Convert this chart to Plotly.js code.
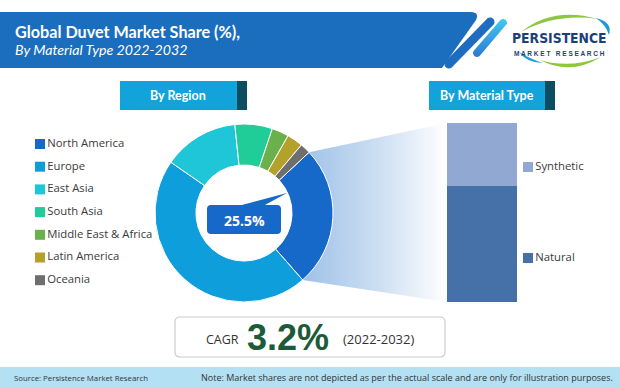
<!DOCTYPE html>
<html><head><meta charset="utf-8">
<script src="https://cdn.plot.ly/plotly-3.0.1.min.js"></script>
<style>html,body{margin:0;padding:0;background:#fff}#chart{width:620px;height:387px}</style>
</head><body><div id="chart"></div>
<script>
// ---------- data ----------
const regions = ['North America','Europe','East Asia','South Asia','Middle East & Africa','Latin America','Oceania'];
const regionShare = [25.5, 46.1, 13.7, 6.8, 3.1, 2.9, 1.9];
const materials = ['Natural','Synthetic'];
const materialShare = [65, 35];
const titleText = 'Global Duvet Market Share (%),';
const subtitleText = 'By Material Type 2022-2032';
const cagrLabel = 'CAGR';
const cagrValue = '3.2%';
const cagrPeriod = '(2022-2032)';
const sourceText = 'Source: Persistence Market Research';
const noteText = 'Note: Market shares are not depicted as per the actual scale and are only for illustration purposes.';

// ---------- styles / geometry ----------
const regionColors = ['#1769c9','#0e9edb','#1fc6d8','#20cc98','#6ab04c','#b3a12c','#6e6e6e'];
const materialColors = ['#4570a8','#91a9d2'];
const W = 620, H = 387;
const pie = {cx:244, cy:213, r:89, hole:0.54, rotation:47};
const bar = {x0:447, x1:517, y0:123, y1:302};

function capsule(x1,y1,x2,y2,w){
  const dx=x2-x1, dy=y2-y1, L=Math.hypot(dx,dy), ux=dx/L, uy=dy/L, nx=-uy, ny=ux, r=w/2;
  const xs=[], ys=[];
  for(let i=0;i<=12;i++){const t=Math.PI*i/12; xs.push(x2+r*(nx*Math.cos(t)+ux*Math.sin(t))); ys.push(y2+r*(ny*Math.cos(t)+uy*Math.sin(t)));}
  for(let i=0;i<=12;i++){const t=Math.PI*i/12; xs.push(x1+r*(-nx*Math.cos(t)-ux*Math.sin(t))); ys.push(y1+r*(-ny*Math.cos(t)-uy*Math.sin(t)));}
  return {xs, ys};
}
function toPath(c){ return 'M'+c.xs.map((x,i)=>x.toFixed(1)+','+c.ys[i].toFixed(1)).join(' L')+' Z'; }
function roundRect(x0,y0,x1,y1,r){
  return `M${x0+r},${y0} H${x1-r} Q${x1},${y0} ${x1},${y0+r} V${y1-r} Q${x1},${y1} ${x1-r},${y1} H${x0+r} Q${x0},${y1} ${x0},${y1-r} V${y0+r} Q${x0},${y0} ${x0+r},${y0} Z`;
}

// fan connector from first slice to the bar
const total = regionShare.reduce((a,b)=>a+b,0);
const a0 = pie.rotation*Math.PI/180;
const a1 = a0 + 2*Math.PI*regionShare[0]/total;
const fan = {
  x:[pie.cx+pie.r*Math.sin(a0), bar.x0, bar.x0, pie.cx+pie.r*Math.sin(a1)],
  y:[pie.cy-pie.r*Math.cos(a0), bar.y0, bar.y1, pie.cy-pie.r*Math.cos(a1)]
};

const darkStripe = capsule(490,22,449,64,9);
const lightStripe = capsule(503,23,477,53,8);

const traces = [
  {type:'scatter', x:fan.x, y:fan.y, xaxis:'x', yaxis:'y', mode:'lines', line:{width:0}, fill:'toself',
   fillgradient:{type:'horizontal', colorscale:[[0,'#9ec1e8'],[0.55,'#cfe0f3'],[1,'#ffffff']]}, hoverinfo:'skip'},
  {type:'scatter', x:lightStripe.xs, y:lightStripe.ys, mode:'lines', line:{width:0}, fill:'toself',
   fillgradient:{type:'vertical', colorscale:[[0,'#2a7bd4'],[1,'#42c8f0']]}, hoverinfo:'skip'},
  {type:'scatter', x:regions.map(()=>40), y:regions.map((_,i)=>144+i*22.7), mode:'markers+text',
   marker:{symbol:'square', size:10, color:regionColors}, text:regions, textposition:'middle right',
   textfont:{family:'Open Sans', size:11.3, color:'#3a3a3a'}, cliponaxis:false, hoverinfo:'skip'},
  {type:'scatter', x:materials.map(()=>528), y:[258,167], mode:'markers+text',
   marker:{symbol:'square', size:10, color:materialColors}, text:materials, textposition:'middle right',
   textfont:{family:'Open Sans', size:11.3, color:'#3a3a3a'}, cliponaxis:false, hoverinfo:'skip'},
  {type:'bar', x:[0], y:[materialShare[0]], width:1, name:materials[0], xaxis:'x2', yaxis:'y2', marker:{color:materialColors[0]}, hoverinfo:'skip'},
  {type:'bar', x:[0], y:[materialShare[1]], width:1, name:materials[1], xaxis:'x2', yaxis:'y2', marker:{color:materialColors[1]}, hoverinfo:'skip'},
  {type:'pie', labels:regions, values:regionShare, hole:pie.hole, sort:false, direction:'clockwise', rotation:pie.rotation,
   marker:{colors:regionColors, line:{color:'#ffffff', width:1}}, textinfo:'none', hoverinfo:'none',
   domain:{x:[(pie.cx-pie.r)/W,(pie.cx+pie.r)/W], y:[1-(pie.cy+pie.r)/H, 1-(pie.cy-pie.r)/H]}}
];

const hdr = (x0,x1,y0,y1)=>[
  {type:'rect', xref:'x', yref:'y', x0:x0, x1:x1-10, y0:y0, y1:y1, fillcolor:'#12a3db', line:{width:0}},
  {type:'rect', xref:'x', yref:'y', x0:x1-10, x1:x1, y0:y0, y1:y1, fillcolor:'#0c4e60', line:{width:0}}
];

const shapes = [
  {type:'path', xref:'x', yref:'y', path:'M0,12 H470 Q480,12 476,20 L442,68 H0 Z', fillcolor:'#1b6ebd', line:{width:0}},
  {type:'path', xref:'x', yref:'y', path:toPath(darkStripe), fillcolor:'#1e6cc0', line:{width:0}},
  ...hdr(120,247,81,110),
  ...hdr(429,555,81,110),
  {type:'path', xref:'x', yref:'y', path:roundRect(207,205,281,234,4), fillcolor:regionColors[0], line:{width:0}},
  {type:'path', xref:'x', yref:'y', path:'M238,206 L287,193 L263,206 Z', fillcolor:regionColors[0], line:{width:0}},
  {type:'path', xref:'x', yref:'y', path:roundRect(175,317,445,357,5), fillcolor:'#ffffff', line:{color:'#cccccc', width:1.2}},
  {type:'rect', xref:'x', yref:'y', x0:0, x1:W, y0:367, y1:H, fillcolor:'#b4e0f3', line:{width:0}},
  // logo swooshes
  {type:'path', xref:'x', yref:'y', path:'M521,32 Q553,6 598,19 Q556,13 521,32 Z', fillcolor:'#8dc63f', line:{width:0}},
  {type:'path', xref:'x', yref:'y', path:'M596,18 Q613,22 609,35 Q606,25 596,18 Z', fillcolor:'#1e9ad6', line:{width:0}},
  {type:'path', xref:'x', yref:'y', path:'M540,60 Q570,76 601,57 Q570,69 540,60 Z', fillcolor:'#8dc63f', line:{width:0}},
  {type:'path', xref:'x', yref:'y', path:'M519,52 Q527,63 543,63 Q530,59 519,52 Z', fillcolor:'#1e9ad6', line:{width:0}}
];

const ann = (text,x,y,font,xanchor='center')=>({text, x, y, xref:'x', yref:'y', xanchor, yanchor:'middle', showarrow:false, font});
const annotations = [
  ann(titleText, 13, 31, {family:'Lato', size:16.2, color:'#ffffff', weight:'bold'}, 'left'),
  ann(subtitleText, 13, 49, {family:'Lato', size:14.2, color:'#ffffff', style:'italic'}, 'left'),
  ann('By Region', 178, 95.5, {family:'Lato', size:12.5, color:'#ffffff', weight:'bold'}),
  ann('By Material Type', 487, 95.5, {family:'Lato', size:12.5, color:'#ffffff', weight:'bold'}),
  ann(regionShare[0].toFixed(1)+'%', 244, 220, {family:'Open Sans', size:14, color:'#ffffff', weight:'bold'}),
  ann(cagrLabel, 222, 339, {family:'Open Sans', size:12.5, color:'#333333'}),
  ann(cagrValue, 288, 337, {family:'Liberation Sans', size:36, color:'#1d5b38', weight:'bold'}),
  ann(cagrPeriod, 378, 339, {family:'Open Sans', size:13, color:'#333333'}),
  ann(sourceText, 12, 377.5, {family:'Open Sans', size:7.8, color:'#333333'}, 'left'),
  ann(noteText, 615, 377.5, {family:'Open Sans', size:9, color:'#333333'}, 'right'),
  ann('PERSISTENCE', 559, 38, {family:'DejaVu Sans Condensed', size:13.8, color:'#1d3f78', weight:'bold'}),
  ann('M A R K E T   R E S E A R C H', 559, 53, {family:'Liberation Sans', size:6.5, color:'#1d3f78', weight:'bold'})
];

const layout = {
  width:W, height:H, margin:{l:0,r:0,t:0,b:0}, paper_bgcolor:'#ffffff', plot_bgcolor:'rgba(0,0,0,0)',
  showlegend:false, barmode:'stack',
  xaxis:{domain:[0,1], range:[0,W], visible:false, fixedrange:true},
  yaxis:{domain:[0,1], range:[H,0], visible:false, fixedrange:true},
  xaxis2:{domain:[bar.x0/W, bar.x1/W], range:[-0.5,0.5], visible:false, anchor:'y2'},
  yaxis2:{domain:[1-bar.y1/H, 1-bar.y0/H], range:[0,100], visible:false, anchor:'x2'},
  shapes, annotations
};
Plotly.newPlot('chart', traces, layout, {staticPlot:true, displayModeBar:false});
</script></body></html>
